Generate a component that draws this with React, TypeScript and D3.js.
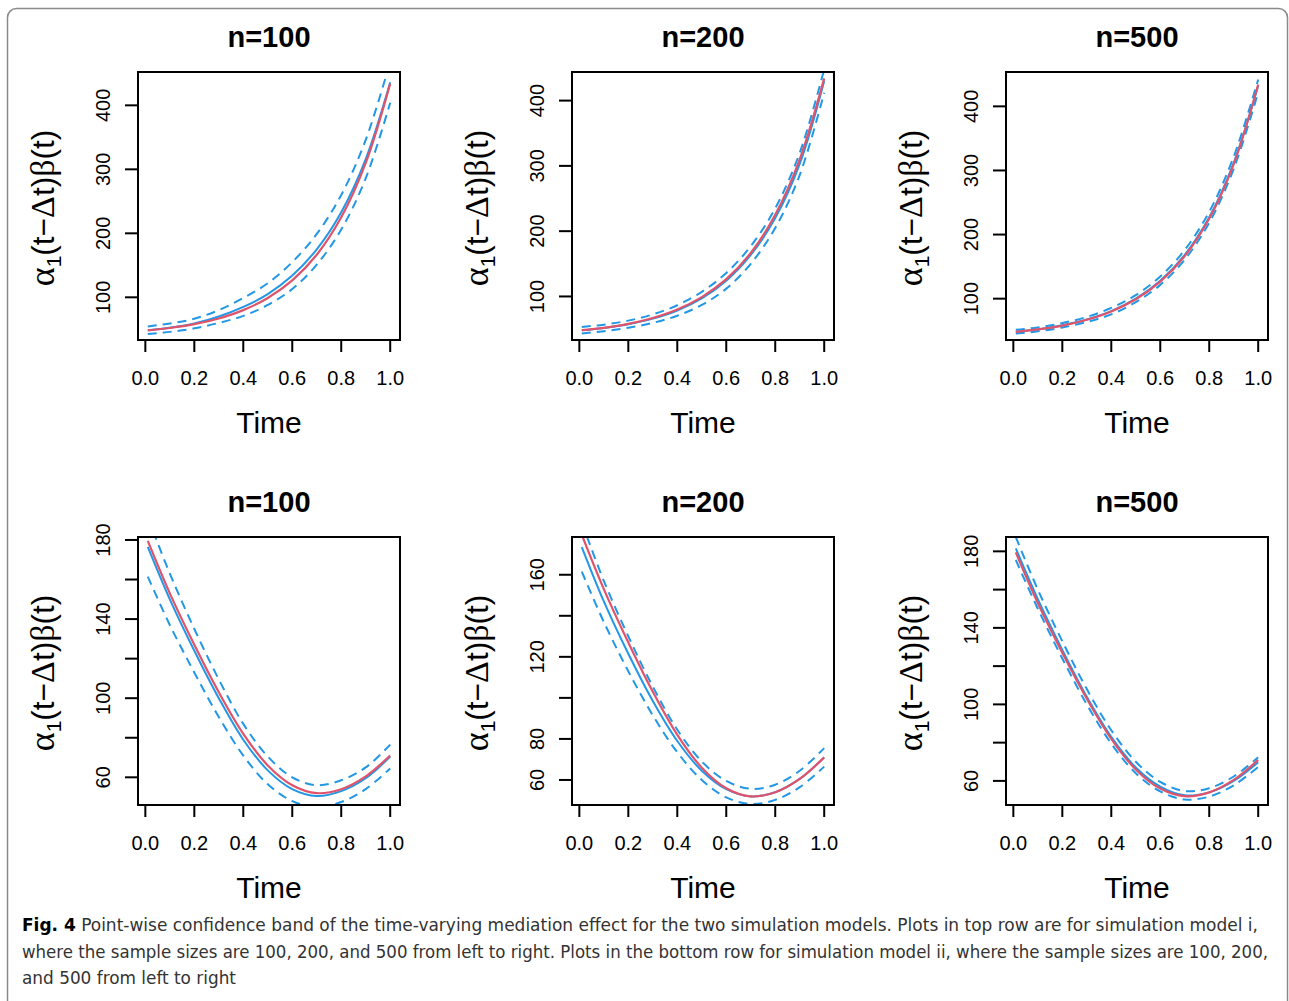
import React from "react";
import * as d3 from "d3";

// ---------- data ----------
const T = [0.01, 0.1, 0.2, 0.3, 0.4, 0.5, 0.6, 0.7, 0.8, 0.9, 1.0];
const X_TICKS = [0, 0.2, 0.4, 0.6, 0.8, 1.0];
const TITLES = ["n=100", "n=200", "n=500"];

// model i (top row)
const TOP_TRUE = [48.3, 52, 58, 67, 80, 99, 126.5, 166.5, 225, 310, 434];
const TL_EST = [48.5, 52.5, 59, 70, 85, 105, 134, 175, 233, 316, 436];
const TL_UP = [54.5, 59, 66.5, 80, 99, 122, 155, 199, 260, 346, 468];
const TL_LO = [42.5, 46, 51.5, 60, 71, 88, 113, 151, 206, 286, 404];
const TM_EST = [48.3, 51.8, 57.5, 66, 78.5, 97, 124, 163.5, 220, 303, 430];
const TM_UP = [53.3, 56.8, 63, 72.5, 86.5, 107, 136, 177, 235, 320, 448];
const TM_LO = [43.3, 46.8, 52, 59.5, 70.5, 87, 112, 150, 205, 286, 412];
const TR_EST = [48.5, 52, 58.5, 67.5, 80.5, 100, 128, 168.5, 227, 312, 432];
const TR_UP = [51.5, 55, 62, 71.5, 85.5, 105.5, 134.5, 176, 235.5, 321.5, 442];
const TR_LO = [45.5, 49, 55, 63.5, 75.5, 94.5, 121.5, 161, 218.5, 302.5, 422];

// model ii (bottom row)
const BOTTOM_TRUE = [179.5, 153, 127, 103, 82, 66, 56, 52, 54, 60.5, 71];
const BL_EST = [176.5, 150, 124, 100, 79, 63.5, 54, 50.5, 53, 59.5, 70.5];
const BL_UP = [191.5, 163, 135, 109.5, 87, 70.5, 60, 56, 58.5, 65, 76.5];
const BL_LO = [161.5, 137, 113, 90.5, 71, 56.5, 48, 45, 47.5, 54, 64.5];
const BM_EST = [173.5, 147, 121.5, 98.5, 79, 64.5, 55.5, 52, 54, 60.5, 71];
const BM_UP = [185.5, 157, 130, 105.5, 84.5, 69, 59.5, 55.7, 57.7, 64.5, 75.5];
const BM_LO = [161.5, 137, 113, 91.5, 73.5, 60, 51.5, 48.3, 50.3, 56.5, 66.5];
const BR_EST = [181.5, 155, 128.5, 104, 83, 67, 57, 52.5, 54, 60, 69.8];
const BR_UP = [187.5, 160, 133, 108, 86.5, 70, 59.5, 54.7, 56.2, 62.3, 72.3];
const BR_LO = [175.5, 150, 124, 100, 79.5, 64, 54.5, 50.3, 51.8, 57.7, 67.3];

// axes
const TOP_Y_TICKS = [100, 200, 300, 400];
const TOP_Y_LABELS = [100, 200, 300, 400];
const BL_Y_TICKS = [60, 80, 100, 120, 140, 160, 180];
const BL_Y_LABELS = [60, 100, 140, 180];
const BM_Y_TICKS = [60, 80, 100, 120, 140, 160];
const BM_Y_LABELS = [60, 80, 120, 160];
const BR_Y_TICKS = [60, 80, 100, 120, 140, 160, 180];
const BR_Y_LABELS = [60, 100, 140, 180];

const TL_DOMAIN = [33.3, 452.1];
const TM_DOMAIN = [33.3, 443.8];
const TR_DOMAIN = [35.5, 453.6];
const BL_DOMAIN = [46, 181.5];
const BM_DOMAIN = [47.8, 178.4];
const BR_DOMAIN = [47.4, 187.5];
const X_DOMAIN = [-0.03, 1.04];

const CAPTION_BOLD = "Fig. 4";
const CAPTION_LINES = [
  " Point-wise confidence band of the time-varying mediation effect for the two simulation models. Plots in top row are for simulation model i,",
  "where the sample sizes are 100, 200, and 500 from left to right. Plots in the bottom row for simulation model ii, where the sample sizes are 100, 200,",
  "and 500 from left to right",
];

// ---------- layout / style ----------
const RED = "#DF536B";
const BLUE = "#2297E6";
const COL_LEFT = [138, 572, 1006];
const ROW_TOP = [72, 537];
const BOX_W = 262;
const BOX_H = 268;
const SANS = "'Liberation Sans', Arial, Helvetica, sans-serif";
const SERIF = "'Liberation Serif', 'Times New Roman', serif";

type Spec = {
  title: string;
  domain: number[];
  ticks: number[];
  labels: number[];
  truth: number[];
  est: number[];
  up: number[];
  lo: number[];
};

const PANELS: Spec[][] = [
  [
    { title: TITLES[0], domain: TL_DOMAIN, ticks: TOP_Y_TICKS, labels: TOP_Y_LABELS, truth: TOP_TRUE, est: TL_EST, up: TL_UP, lo: TL_LO },
    { title: TITLES[1], domain: TM_DOMAIN, ticks: TOP_Y_TICKS, labels: TOP_Y_LABELS, truth: TOP_TRUE, est: TM_EST, up: TM_UP, lo: TM_LO },
    { title: TITLES[2], domain: TR_DOMAIN, ticks: TOP_Y_TICKS, labels: TOP_Y_LABELS, truth: TOP_TRUE, est: TR_EST, up: TR_UP, lo: TR_LO },
  ],
  [
    { title: TITLES[0], domain: BL_DOMAIN, ticks: BL_Y_TICKS, labels: BL_Y_LABELS, truth: BOTTOM_TRUE, est: BL_EST, up: BL_UP, lo: BL_LO },
    { title: TITLES[1], domain: BM_DOMAIN, ticks: BM_Y_TICKS, labels: BM_Y_LABELS, truth: BOTTOM_TRUE, est: BM_EST, up: BM_UP, lo: BM_LO },
    { title: TITLES[2], domain: BR_DOMAIN, ticks: BR_Y_TICKS, labels: BR_Y_LABELS, truth: BOTTOM_TRUE, est: BR_EST, up: BR_UP, lo: BR_LO },
  ],
];

function Panel({ spec, left, top, id }: { spec: Spec; left: number; top: number; id: string }) {
  const x = d3.scaleLinear().domain(X_DOMAIN).range([left, left + BOX_W]);
  const y = d3.scaleLinear().domain(spec.domain).range([top + BOX_H, top]);
  const gen = d3
    .line<number>()
    .x((_, i) => x(T[i]))
    .y((v) => y(v))
    .curve(d3.curveCatmullRom.alpha(0.5));
  const bottom = top + BOX_H;
  const cx = left + BOX_W / 2;
  const cy = top + BOX_H / 2;
  return (
    <g>
      <defs>
        <clipPath id={id}>
          <rect x={left} y={top} width={BOX_W} height={BOX_H} />
        </clipPath>
      </defs>
      <text x={cx} y={top - 25.5} textAnchor="middle" fontSize={29} fontWeight="bold" fontFamily={SANS}>
        {spec.title}
      </text>
      <g clipPath={`url(#${id})`} fill="none">
        <path d={gen(spec.up) || ""} stroke={BLUE} strokeWidth={2} strokeDasharray="9,6" />
        <path d={gen(spec.lo) || ""} stroke={BLUE} strokeWidth={2} strokeDasharray="9,6" />
        <path d={gen(spec.est) || ""} stroke={BLUE} strokeWidth={2} />
        <path d={gen(spec.truth) || ""} stroke={RED} strokeWidth={2.2} />
      </g>
      <rect x={left} y={top} width={BOX_W} height={BOX_H} fill="none" stroke="#000" strokeWidth={2} />
      {/* x axis */}
      {X_TICKS.map((t) => (
        <g key={`x${t}`}>
          <line x1={x(t)} x2={x(t)} y1={bottom} y2={bottom + 12} stroke="#000" strokeWidth={2} />
          <text x={x(t)} y={bottom + 44.5} textAnchor="middle" fontSize={20} fontFamily={SANS}>
            {t.toFixed(1)}
          </text>
        </g>
      ))}
      <text x={cx} y={bottom + 93} textAnchor="middle" fontSize={30} fontFamily={SANS}>
        Time
      </text>
      {/* y axis */}
      {spec.ticks.map((v) => (
        <line key={`yt${v}`} x1={left - 13} x2={left} y1={y(v)} y2={y(v)} stroke="#000" strokeWidth={2} />
      ))}
      {spec.labels.map((v) => (
        <text
          key={`yl${v}`}
          transform={`translate(${left - 28},${y(v)}) rotate(-90)`}
          textAnchor="middle"
          fontSize={20}
          fontFamily={SANS}
        >
          {String(v)}
        </text>
      ))}
      <text
        transform={`translate(${left - 84},${cy + 2}) rotate(-90)`}
        textAnchor="middle"
        fontSize={31.5}
        fontFamily={SANS}
      >
        <tspan fontFamily={SERIF} fontSize={36}>α</tspan>
        <tspan fontSize={21} dy={7}>1</tspan>
        <tspan dy={-7}>(t−</tspan>
        <tspan fontFamily={SERIF} fontSize={34}>Δ</tspan>
        <tspan>t)</tspan>
        <tspan fontFamily={SERIF} fontSize={34}>β</tspan>
        <tspan>(t)</tspan>
      </text>
    </g>
  );
}

export default function App() {
  const capLens = [1236, 1246, 214];
  const capY = [931, 957.5, 984];
  return (
    <svg
      width={1289}
      height={1001}
      style={{ position: "absolute", left: 0, top: 0, display: "block", background: "#fff" }}
      fontFamily={SANS}
    >
      <rect x={0} y={0} width={1289} height={1001} fill="#fff" />
      <rect x={7.5} y={8.5} width={1280} height={1010} rx={9} ry={9} fill="none" stroke="#8a8a8a" strokeWidth={1.5} />
      {PANELS.map((row, r) =>
        row.map((spec, c) => (
          <Panel key={`${r}-${c}`} spec={spec} left={COL_LEFT[c]} top={ROW_TOP[r]} id={`clip-${r}-${c}`} />
        ))
      )}
      {CAPTION_LINES.map((line, i) => (
        <text
          key={`cap${i}`}
          x={22}
          y={capY[i]}
          fontSize={18.5}
          fill="#333"
          fontFamily="'Liberation Sans Narrow', 'DejaVu Sans Condensed', 'Liberation Sans', sans-serif"
          textLength={capLens[i]}
          lengthAdjust="spacingAndGlyphs"
        >
          {i === 0 ? (
            <tspan fontWeight="bold" fill="#000">
              {CAPTION_BOLD}
            </tspan>
          ) : null}
          {line}
        </text>
      ))}
    </svg>
  );
}
